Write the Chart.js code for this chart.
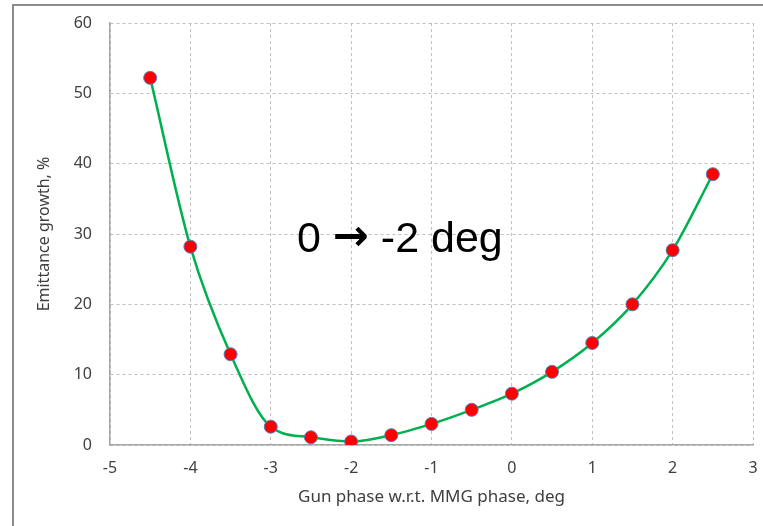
<!DOCTYPE html>
<html>
<head>
<meta charset="utf-8">
<script src="https://cdn.jsdelivr.net/npm/chart.js@4"></script>
<style>
  html, body { margin: 0; padding: 0; background: #fff; }
  #wrap { position: relative; width: 763px; height: 526px; overflow: hidden; }
  #frame { position: absolute; left: 12px; top: 4px; width: 800px; height: 600px;
           border-left: 2px solid #8c8c8c; border-top: 2px solid #8c8c8c; }
  canvas { position: absolute; left: 0; top: 0; }
</style>
</head>
<body>
<div id="wrap">
  <div id="frame"></div>
  <canvas id="growthChart" width="763" height="526"></canvas>
</div>
<script>
// gun phase scan: emittance growth vs phase offset
var phases = [-4.5, -4, -3.5, -3, -2.5, -2, -1.5, -1, -0.5, 0, 0.5, 1, 1.5, 2, 2.5];
var growth = [52.2, 28.2, 12.9, 2.6, 1.1, 0.5, 1.4, 3.0, 5.0, 7.3, 10.4, 14.5, 20.0, 27.7, 38.5];
var xTitle = "Gun phase w.r.t. MMG phase, deg";
var yTitle = "Emittance growth, %";
var note = ["0 ", "\u2192", " -2 deg"];

var points = phases.map(function (p, i) { return { x: p, y: growth[i] }; });

// annotation drawn inside the plot area
var notePlugin = {
    id: 'note',
    afterDatasetsDraw: function (chart) {
        var ctx = chart.ctx;
        ctx.save();
        ctx.fillStyle = '#000';
        ctx.textBaseline = 'alphabetic';
        var x = 297, y = 252;
        ctx.font = '43px "Liberation Sans", Arial, sans-serif';
        ctx.fillText(note[0], x, y);
        x += ctx.measureText(note[0]).width;
        ctx.font = 'bold 43px "DejaVu Sans", sans-serif';
        ctx.fillText(note[1], x, y - 2);
        x += ctx.measureText(note[1]).width;
        ctx.font = '43px "Liberation Sans", Arial, sans-serif';
        ctx.fillText(note[2], x, y);
        ctx.restore();
    }
};

var tickFont = { family: '"Noto Sans", sans-serif', size: 16 };

var ctx = document.getElementById('growthChart').getContext('2d');
var chart = new Chart(ctx, {
    type: 'scatter',
    data: {
        datasets: [{
            data: points,
            showLine: true,
            borderColor: '#00b050',
            borderWidth: 2.5,
            cubicInterpolationMode: 'monotone',
            pointRadius: 6.5,
            pointHoverRadius: 6.5,
            pointBackgroundColor: '#ff0000',
            pointBorderColor: '#4f81bd',
            pointBorderWidth: 1
        }]
    },
    options: {
        responsive: false,
        animation: false,
        layout: { padding: { top: 23, right: 10, left: 0, bottom: 0 } },
        plugins: { legend: { display: false }, tooltip: { enabled: false } },
        scales: {
            x: {
                type: 'linear',
                min: -5, max: 3,
                ticks: { stepSize: 1, padding: 14, color: '#404040', font: tickFont },
                grid: { color: '#bfbfbf', drawTicks: false },
                border: { display: true, color: '#a6a6a6', width: 1.5, dash: [3, 3] },
                title: {
                    display: true, text: xTitle, color: '#404040',
                    font: { family: '"Noto Sans", sans-serif', size: 17 },
                    padding: { top: 4, bottom: 19 }
                },
                afterFit: function (scale) {
                    scale.height = 81;
                    scale.paddingLeft = 0;
                    scale.paddingRight = 0;
                }
            },
            y: {
                min: 0, max: 60,
                ticks: { stepSize: 10, padding: 18, color: '#404040', font: tickFont },
                grid: { color: '#bfbfbf', drawTicks: false },
                border: { display: true, color: '#a6a6a6', width: 1.5, dash: [3, 3] },
                title: {
                    display: true, text: yTitle, color: '#404040',
                    font: { family: '"Noto Sans", sans-serif', size: 16 },
                    padding: { top: 35, bottom: 0 }
                },
                afterFit: function (scale) {
                    scale.width = 110;
                    scale.paddingTop = 0;
                    scale.paddingBottom = 0;
                }
            }
        }
    },
    plugins: [notePlugin]
});
</script>
</body>
</html>
